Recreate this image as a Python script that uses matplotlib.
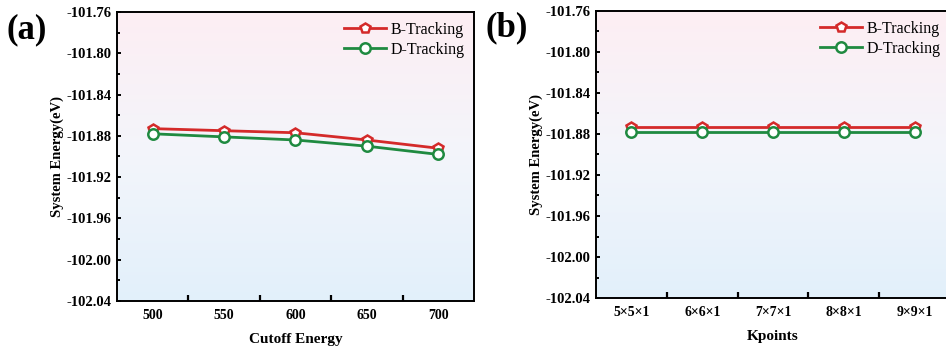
import numpy as np
import matplotlib
matplotlib.use("Agg")
import matplotlib.pyplot as plt
from matplotlib.colors import LinearSegmentedColormap

# Data
cutoff = [500, 550, 600, 650, 700]
b_cutoff = [-101.873, -101.875, -101.877, -101.884, -101.892]
d_cutoff = [-101.878, -101.881, -101.884, -101.890, -101.898]

kpoints = ["5×5×1", "6×6×1", "7×7×1", "8×8×1", "9×9×1"]
b_kpts = [-101.873, -101.873, -101.873, -101.873, -101.873]
d_kpts = [-101.878, -101.878, -101.878, -101.878, -101.878]

yticks = [-101.76, -101.80, -101.84, -101.88, -101.92, -101.96, -102.00, -102.04]

plt.rcParams['font.family'] = ['Liberation Serif', 'DejaVu Serif']

RED = "#d42a2a"
GREEN = "#1f8a40"

fig = plt.figure(figsize=(9.46, 3.54), dpi=100)
W, H = 946, 354

def px_axes(l, t, r, b):
    return fig.add_axes([l / W, 1 - b / H, (r - l) / W, (b - t) / H])

grad_cmap = LinearSegmentedColormap.from_list("bg", ["#e2f0fa", "#f3f5fb", "#fdeef3"])

def style(ax, xlabel):
    ax.set_ylim(-102.04, -101.76)
    ax.set_yticks(yticks)
    ax.set_yticklabels([f"{v:.2f}" for v in yticks])
    ax.set_yticks(np.arange(-102.02, -101.76, 0.04), minor=True)
    grad = np.linspace(0, 1, 256).reshape(-1, 1)
    ax.imshow(grad, cmap=grad_cmap, origin="lower", aspect="auto",
              extent=[0, 1, 0, 1], transform=ax.transAxes, zorder=0)
    for s in ax.spines.values():
        s.set_linewidth(1.4)
    ax.tick_params(axis='y', which='major', direction='in', length=3, width=1.4,
                   labelsize=10.5, pad=4)
    ax.tick_params(axis='y', which='minor', direction='in', length=2, width=1.4)
    ax.tick_params(axis='x', which='major', length=0, labelsize=10, pad=6)
    ax.tick_params(axis='x', which='minor', direction='in', length=4, width=1.6)
    for lab in ax.get_xticklabels() + ax.get_yticklabels():
        lab.set_fontweight('bold')
    ax.set_ylabel("System Energy(eV)", fontsize=10.5, fontweight='bold', labelpad=1.5)
    ax.set_xlabel(xlabel, fontsize=11, fontweight='bold', labelpad=8)
    ax.legend(loc='upper right', frameon=False, fontsize=11.5,
              handlelength=2.6, handletextpad=0.3, labelspacing=0.25,
              borderaxespad=0.2)

mk = dict(markersize=7.5, markerfacecolor='white', markeredgewidth=1.8, linewidth=2.0)

# Panel (a)
ax1 = px_axes(117, 12, 474, 301)
ax1.plot(cutoff, b_cutoff, color=RED, marker='p', markeredgecolor=RED, label='B-Tracking', zorder=3, **mk)
ax1.plot(cutoff, d_cutoff, color=GREEN, marker='o', markeredgecolor=GREEN, label='D-Tracking', zorder=3, **mk)
ax1.set_xlim(475, 725)
ax1.set_xticks(cutoff)
ax1.set_xticks([525, 575, 625, 675], minor=True)
style(ax1, "Cutoff Energy")

# Panel (b)
xk = np.arange(len(kpoints))
ax2 = px_axes(596, 11, 950, 298)
ax2.plot(xk, b_kpts, color=RED, marker='p', markeredgecolor=RED, label='B-Tracking', zorder=3, **mk)
ax2.plot(xk, d_kpts, color=GREEN, marker='o', markeredgecolor=GREEN, label='D-Tracking', zorder=3, **mk)
ax2.set_xlim(-0.5, 4.5)
ax2.set_xticks(xk)
ax2.set_xticklabels(kpoints)
ax2.set_xticks([0.5, 1.5, 2.5, 3.5], minor=True)
style(ax2, "Kpoints")

fig.text(6 / W, 1 - 30 / H, "(a)", fontsize=25, fontweight='bold', va='center', ha='left')
fig.text(485 / W, 1 - 28 / H, "(b)", fontsize=25, fontweight='bold', va='center', ha='left')

fig.savefig("out.png", dpi=100)
